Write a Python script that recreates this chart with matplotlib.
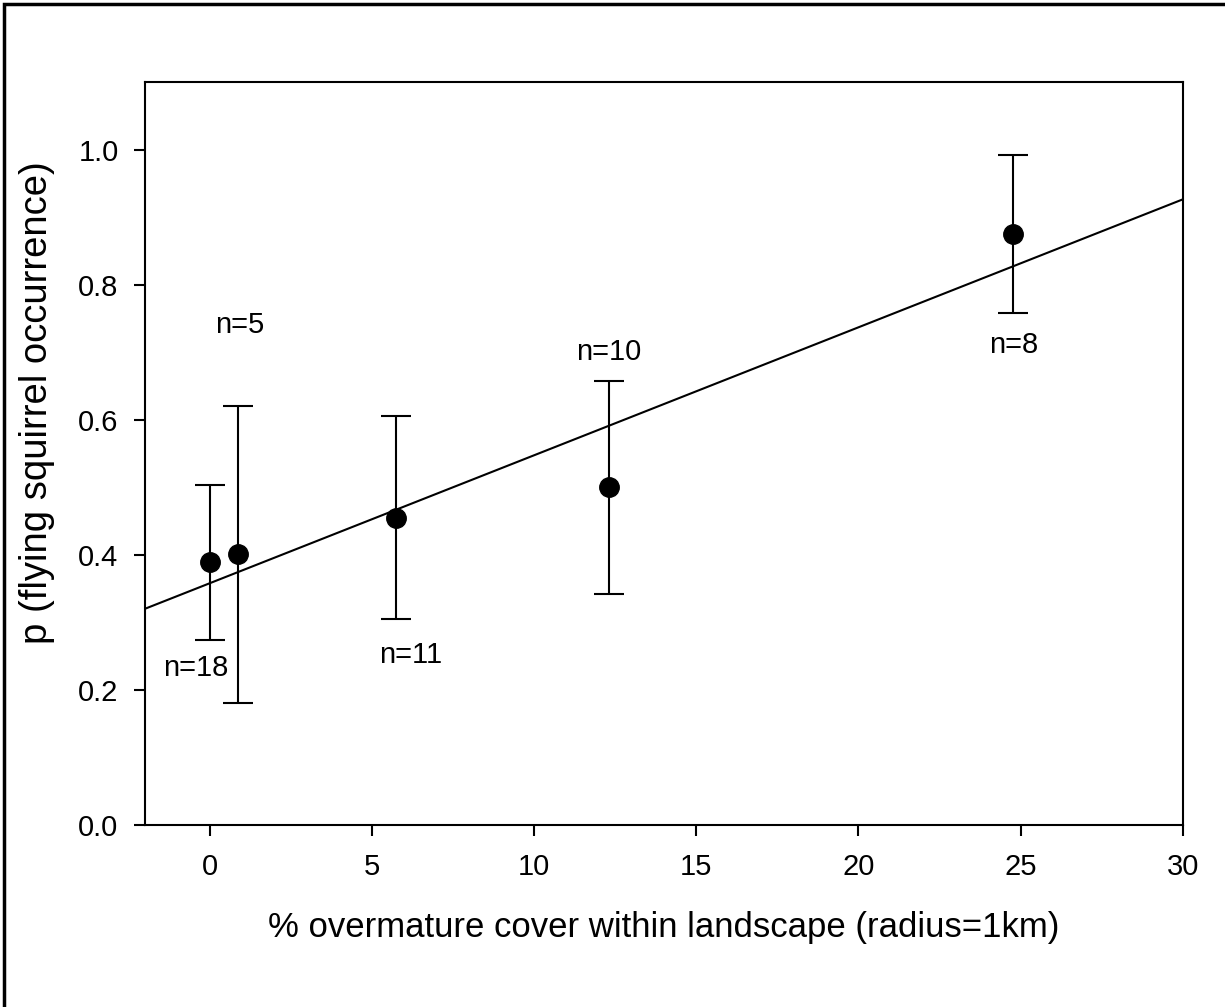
import matplotlib
matplotlib.use("Agg")
import matplotlib.pyplot as plt
from matplotlib.patches import Rectangle
import numpy as np

plt.rcParams['font.family'] = ['Liberation Sans', 'DejaVu Sans']

# data
cover = [0.0, 0.87, 5.74, 12.3, 24.77]
p_occ = [0.389, 0.401, 0.455, 0.500, 0.875]
err = [0.115, 0.22, 0.15, 0.158, 0.117]
n_labels = ["n=18", "n=5", "n=11", "n=10", "n=8"]
n_x = [-0.43, 0.93, 6.2, 12.3, 24.8]
n_y = [0.232, 0.74, 0.252, 0.70, 0.71]
fit_intercept = 0.358
fit_slope = 0.01894

fig = plt.figure(figsize=(12.25, 10.07), dpi=100)
ax = fig.add_axes([145/1225, 1 - 825/1007, (1182.7-145)/1225, (825-82)/1007])

# regression line
xl = np.array([-2, 30])
ax.plot(xl, fit_intercept + fit_slope*xl, color='black', lw=1.5)

ax.errorbar(cover, p_occ, yerr=err, fmt='o', color='black', ms=14,
            elinewidth=1.5, capsize=11, capthick=1.5)

for t, x, y in zip(n_labels, n_x, n_y):
    ax.text(x, y, t, ha='center', va='center', fontsize=21)

ax.set_xlim(-2, 30)
ax.set_ylim(0, 1.1)
ax.set_xticks([0, 5, 10, 15, 20, 25, 30])
ax.set_yticks([0.0, 0.2, 0.4, 0.6, 0.8, 1.0])
ax.set_yticklabels(['0.0', '0.2', '0.4', '0.6', '0.8', '1.0'])
ax.tick_params(direction='out', length=8, width=1.5, labelsize=21)
ax.tick_params(axis='x', pad=12)
ax.tick_params(axis='y', pad=11)
for s in ax.spines.values():
    s.set_linewidth(1.5)

ax.set_xlabel("% overmature cover within landscape (radius=1km)", fontsize=25, labelpad=22)
ax.set_ylabel("p (flying squirrel occurrence)", fontsize=27.5)
ax.yaxis.set_label_coords(-0.087, 0.569)

# outer frame (cut at right/bottom in the original)
fig.patches.append(Rectangle((4/1225, -0.1), 1.2, 1 - 4/1007 + 0.1, transform=fig.transFigure,
                             fill=False, edgecolor='black', lw=2.5))

plt.savefig("out.png", dpi=100)
